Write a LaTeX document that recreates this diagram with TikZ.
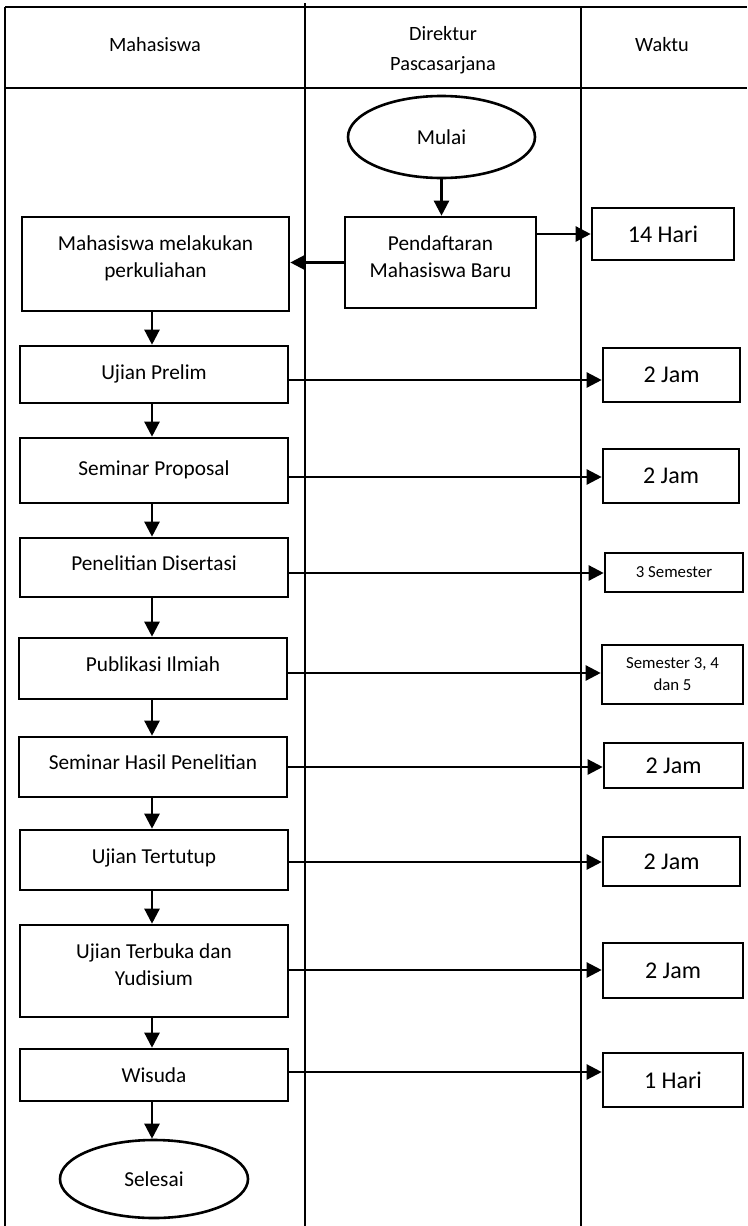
\documentclass[tikz,border=0pt]{standalone}
\usepackage{fontspec}
\setmainfont{Carlito}
\usetikzlibrary{arrows.meta,shapes.geometric,fit}
\tikzset{
  lane/.style={line width=2.4pt},
  box/.style={draw, line width=2.6pt, inner sep=0pt},
  oval/.style={draw, line width=2.6pt, ellipse, inner sep=0pt},
  txt/.style={align=center, font=\fontsize{21.3}{27}\selectfont, inner sep=0pt},
  htxt/.style={align=center, font=\fontsize{20.3}{30}\selectfont, inner sep=0pt},
  ttxt/.style={align=center, font=\fontsize{24}{27}\selectfont, inner sep=0pt},
  stxt/.style={align=center, font=\fontsize{16.8}{22}\selectfont, inner sep=0pt},
  arr/.style={line width=2.4pt, -{Triangle[length=15pt,width=15pt]}}
}
\begin{document}
\begin{tikzpicture}[x=1pt,y=-1pt]
\useasboundingbox (0,0) rectangle (747,1226);
% swimlanes
\coordinate (tl) at (5,7);
\coordinate (tr) at (747,7);
\coordinate (hl) at (5,88);
\coordinate (hr) at (747,88);
\coordinate (bl) at (5,1226);
\coordinate (d1t) at (305,3);
\coordinate (d1b) at (305,1226);
\coordinate (d2t) at (581,7);
\coordinate (d2b) at (581,1226);
\draw[lane] (tl) -- (tr);
\draw[lane] (hl) -- (hr);
\draw[lane] (tl) -- (bl);
\draw[lane] (d1t) -- (d1b);
\draw[lane] (d2t) -- (d2b);
\node[htxt] (h1) at (155,45) {Mahasiswa};
\node[htxt] (h2) at (443,50) {Direktur\\Pascasarjana};
\node[htxt] (h3) at (662,45) {Waktu};

% start
\node[oval, minimum width=187pt, minimum height=82pt] (mulai) at (441.5,137) {};
\node[txt] (mulait) at (mulai.center) {Mulai};
\node[box, fit={(345,217) (536,308)}] (daftar) {};
\node[txt] (daftart) at (440.5,256.5) {Pendaftaran\\Mahasiswa Baru};

% Mahasiswa lane
\node[box, fit={(22,217) (289,311)}] (kul) {};
\node[txt] (kult) at (155.5,258.5) {Mahasiswa melakukan\\perkuliahan};
\node[box, fit={(20,346) (288,403)}] (prelim) {};
\node[txt] (prelimt) at (154,374) {Ujian Prelim};
\node[box, fit={(20,438) (288,503)}] (prop) {};
\node[txt] (propt) at (154,470) {Seminar Proposal};
\node[box, fit={(20,538) (288,597)}] (pen) {};
\node[txt] (pent) at (154,563) {Penelitian Disertasi};
\node[box, fit={(19,638) (287,699)}] (pub) {};
\node[txt] (pubt) at (153,664) {Publikasi Ilmiah};
\node[box, fit={(19,737) (287,797)}] (has) {};
\node[txt] (hast) at (153,762) {Seminar Hasil Penelitian};
\node[box, fit={(20,830) (288,890)}] (tut) {};
\node[txt] (tutt) at (154,858) {Ujian Tertutup};
\node[box, fit={(20,925) (288,1017)}] (buka) {};
\node[txt] (bukat) at (154,965) {Ujian Terbuka dan\\Yudisium};
\node[box, fit={(20,1049) (288,1101)}] (wis) {};
\node[txt] (wist) at (154,1075) {Wisuda};
\node[oval, minimum width=188pt, minimum height=78pt] (sel) at (154,1179) {};
\node[txt] (selt) at (sel.center) {Selesai};

% Waktu lane
\node[box, fit={(592,208) (734,260)}] (w1) {};
\node[ttxt] (w1t) at (w1.center) {14 Hari};
\node[box, fit={(603,348) (740,402)}] (w2) {};
\node[ttxt] (w2t) at (w2.center) {2 Jam};
\node[box, fit={(603,449) (739,503)}] (w3) {};
\node[ttxt] (w3t) at (w3.center) {2 Jam};
\node[box, fit={(605,553) (743,592)}] (w4) {};
\node[stxt] (w4t) at (w4.center) {3 Semester};
\node[box, fit={(602,645) (743,704)}] (w5) {};
\node[stxt] (w5t) at (w5.center) {Semester 3, 4\\dan 5};
\node[box, fit={(604,743) (743,788)}] (w6) {};
\node[ttxt] (w6t) at (w6.center) {2 Jam};
\node[box, fit={(603,837) (740,886)}] (w7) {};
\node[ttxt] (w7t) at (w7.center) {2 Jam};
\node[box, fit={(603,943) (743,998)}] (w8) {};
\node[ttxt] (w8t) at (w8.center) {2 Jam};
\node[box, fit={(603,1053) (743,1107)}] (w9) {};
\node[ttxt] (w9t) at (w9.center) {1 Hari};

% arrows
\draw[arr] (mulai.south) -- (mulai.south |- daftar.north);
\draw[arr] (daftar.west) -- (kul.east |- daftar.west);
\draw[arr] (daftar.east |- w1.west) -- (w1.west);
\draw[arr] (kul.south -| 152,0) -- (prelim.north -| 152,0);
\draw[arr] (prelim.south -| 152,0) -- (prop.north -| 152,0);
\draw[arr] (prop.south -| 152,0) -- (pen.north -| 152,0);
\draw[arr] (pen.south -| 152,0) -- (pub.north -| 152,0);
\draw[arr] (pub.south -| 152,0) -- (has.north -| 152,0);
\draw[arr] (has.south -| 152,0) -- (tut.north -| 152,0);
\draw[arr] (tut.south -| 152,0) -- (buka.north -| 152,0);
\draw[arr] (buka.south -| 152,0) -- (wis.north -| 152,0);
\draw[arr] (wis.south -| 152,0) -- (sel.north -| 152,0);
\draw[arr] (prelim.east |- 0,380) -- (w2.west |- 0,380);
\draw[arr] (prop.east |- 0,477) -- (w3.west |- 0,477);
\draw[arr] (pen.east |- 0,573) -- (w4.west |- 0,573);
\draw[arr] (pub.east |- 0,673) -- (w5.west |- 0,673);
\draw[arr] (has.east |- 0,767) -- (w6.west |- 0,767);
\draw[arr] (tut.east |- 0,862) -- (w7.west |- 0,862);
\draw[arr] (buka.east |- 0,970) -- (w8.west |- 0,970);
\draw[arr] (wis.east |- 0,1072) -- (w9.west |- 0,1072);
\end{tikzpicture}
\end{document}
